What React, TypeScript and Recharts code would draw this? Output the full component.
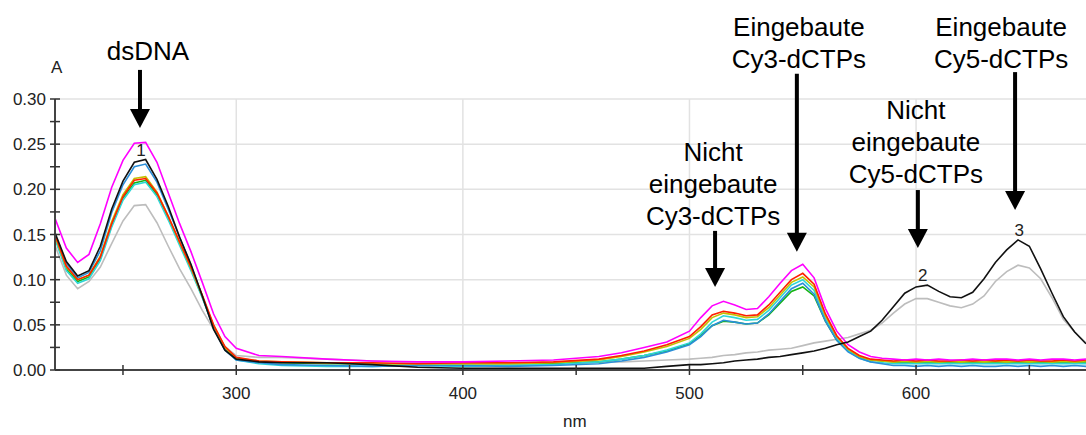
import { LineChart, Line, XAxis, YAxis, CartesianGrid, ReferenceDot } from "recharts";

// wavelength grid (nm), finer where the bands are
const wavelengths = [
	220, 225, 230, 235, 240, 245, 250, 255, 260, 265, 270, 275, 280, 285, 290, 295, 300,
	310, 320, 340, 360, 380, 400, 420, 440, 460,
	470, 480, 490, 500,
	505, 510, 515, 520, 525, 530, 535, 540, 545, 550, 555, 560, 565, 570, 575, 580,
	585, 590, 595, 600, 605, 610, 615, 620, 625, 630, 635, 640, 645, 650, 655, 660, 665, 670, 675,
];

// Cy3 labelled samples
const magenta = [
	0.168, 0.135, 0.119, 0.128, 0.162, 0.202, 0.232, 0.251, 0.252, 0.230, 0.196, 0.162, 0.131, 0.097, 0.062, 0.037, 0.024,
	0.016, 0.015, 0.012, 0.010, 0.009, 0.009, 0.010, 0.011, 0.015,
	0.019, 0.025, 0.031, 0.043,
	0.058, 0.071, 0.076, 0.072, 0.067, 0.068, 0.081, 0.096, 0.110, 0.117, 0.102, 0.068, 0.043, 0.028, 0.020, 0.015,
	0.013, 0.012, 0.011, 0.012, 0.011, 0.012, 0.011, 0.011, 0.012, 0.011, 0.012, 0.012, 0.011, 0.012, 0.011, 0.012, 0.012, 0.011, 0.012,
];
const red = [
	0.150, 0.115, 0.100, 0.105, 0.125, 0.162, 0.192, 0.210, 0.212, 0.196, 0.170, 0.142, 0.114, 0.083, 0.050, 0.026, 0.014,
	0.010, 0.009, 0.008, 0.008, 0.007, 0.008, 0.008, 0.009, 0.012,
	0.016, 0.021, 0.028, 0.037,
	0.048, 0.061, 0.065, 0.063, 0.060, 0.061, 0.072, 0.086, 0.100, 0.107, 0.095, 0.062, 0.038, 0.024, 0.016, 0.012,
	0.011, 0.010, 0.011, 0.010, 0.011, 0.010, 0.010, 0.011, 0.010, 0.011, 0.010, 0.011, 0.010, 0.011, 0.010, 0.010, 0.011, 0.010, 0.011,
];
const olive = [
	0.148, 0.114, 0.100, 0.105, 0.126, 0.164, 0.194, 0.212, 0.214, 0.197, 0.170, 0.141, 0.113, 0.082, 0.049, 0.025, 0.013,
	0.010, 0.009, 0.008, 0.007, 0.007, 0.007, 0.007, 0.008, 0.011,
	0.015, 0.020, 0.026, 0.035,
	0.045, 0.058, 0.063, 0.061, 0.058, 0.059, 0.069, 0.083, 0.097, 0.103, 0.092, 0.060, 0.037, 0.023, 0.015, 0.011,
	0.010, 0.009, 0.010, 0.009, 0.010, 0.009, 0.010, 0.009, 0.010, 0.009, 0.010, 0.009, 0.010, 0.009, 0.010, 0.009, 0.010, 0.009, 0.010,
];
const green = [
	0.147, 0.112, 0.098, 0.103, 0.123, 0.160, 0.190, 0.207, 0.210, 0.194, 0.168, 0.140, 0.112, 0.081, 0.048, 0.024, 0.012,
	0.009, 0.008, 0.007, 0.007, 0.007, 0.007, 0.007, 0.007, 0.009,
	0.012, 0.016, 0.021, 0.029,
	0.038, 0.049, 0.054, 0.053, 0.051, 0.052, 0.061, 0.074, 0.087, 0.092, 0.082, 0.054, 0.033, 0.021, 0.014, 0.011,
	0.010, 0.009, 0.009, 0.009, 0.009, 0.009, 0.009, 0.009, 0.009, 0.009, 0.009, 0.009, 0.009, 0.009, 0.009, 0.009, 0.009, 0.009, 0.009,
];
const cyan = [
	0.145, 0.110, 0.096, 0.101, 0.121, 0.158, 0.188, 0.205, 0.208, 0.192, 0.166, 0.138, 0.110, 0.080, 0.047, 0.023, 0.011,
	0.007, 0.005, 0.004, 0.004, 0.005, 0.004, 0.005, 0.006, 0.009,
	0.012, 0.016, 0.022, 0.030,
	0.040, 0.053, 0.060, 0.058, 0.055, 0.056, 0.066, 0.080, 0.094, 0.100, 0.088, 0.057, 0.035, 0.021, 0.013, 0.009,
	0.008, 0.007, 0.007, 0.007, 0.007, 0.007, 0.007, 0.007, 0.007, 0.007, 0.007, 0.007, 0.007, 0.007, 0.007, 0.007, 0.007, 0.007, 0.007,
];
const blue = [
	0.150, 0.118, 0.102, 0.108, 0.132, 0.174, 0.205, 0.225, 0.228, 0.208, 0.178, 0.147, 0.116, 0.082, 0.046, 0.022, 0.011,
	0.008, 0.006, 0.005, 0.004, 0.005, 0.005, 0.004, 0.005, 0.007,
	0.010, 0.014, 0.020, 0.028,
	0.037, 0.049, 0.055, 0.053, 0.051, 0.052, 0.062, 0.076, 0.090, 0.096, 0.084, 0.054, 0.033, 0.020, 0.013, 0.009,
	0.007, 0.005, 0.005, 0.004, 0.005, 0.004, 0.005, 0.004, 0.005, 0.004, 0.004, 0.005, 0.004, 0.005, 0.004, 0.005, 0.004, 0.005, 0.004,
];

// Cy5 labelled samples
const black = [
	0.152, 0.120, 0.104, 0.110, 0.137, 0.178, 0.209, 0.230, 0.233, 0.211, 0.181, 0.147, 0.117, 0.082, 0.045, 0.022, 0.012,
	0.009, 0.008, 0.008, 0.006, 0.003, 0.002, 0.002, 0.002, 0.002,
	0.002, 0.002, 0.004, 0.006,
	0.006, 0.007, 0.008, 0.010, 0.011, 0.012, 0.014, 0.015, 0.017, 0.019, 0.021, 0.024, 0.028, 0.031, 0.037, 0.043,
	0.055, 0.070, 0.085, 0.092, 0.094, 0.087, 0.081, 0.080, 0.086, 0.101, 0.119, 0.133, 0.144, 0.137, 0.112, 0.085, 0.059, 0.042, 0.029,
];
const gray = [
	0.138, 0.105, 0.090, 0.098, 0.114, 0.140, 0.165, 0.182, 0.183, 0.163, 0.137, 0.112, 0.090, 0.066, 0.045, 0.026, 0.016,
	0.014, 0.014, 0.012, 0.010, 0.008, 0.008, 0.008, 0.008, 0.009,
	0.009, 0.010, 0.011, 0.012,
	0.013, 0.014, 0.016, 0.017, 0.019, 0.020, 0.022, 0.023, 0.024, 0.027, 0.030, 0.032, 0.034, 0.036, 0.040, 0.044,
	0.052, 0.063, 0.073, 0.079, 0.079, 0.075, 0.071, 0.069, 0.073, 0.082, 0.098, 0.109, 0.116, 0.113, 0.101, 0.080, 0.056, 0.042, 0.030,
];

const xTicks = [250, 300, 350, 400, 450, 500, 550, 600, 650];
const xLabels = [300, 400, 500, 600];
const yTicks = [0, 0.025, 0.05, 0.075, 0.1, 0.125, 0.15, 0.175, 0.2, 0.225, 0.25, 0.275, 0.3];
const yLabels = [0, 0.05, 0.1, 0.15, 0.2, 0.25, 0.3];

const series = [
	{ key: "gray", values: gray, color: "#BDBDBD" },
	{ key: "green", values: green, color: "#14B414" },
	{ key: "cyan", values: cyan, color: "#2ED6D6" },
	{ key: "blue", values: blue, color: "#2A8ED8" },
	{ key: "olive", values: olive, color: "#C4C000" },
	{ key: "red", values: red, color: "#FF2000" },
	{ key: "magenta", values: magenta, color: "#FF00FF" },
	{ key: "black", values: black, color: "#111111" },
];

const rows = wavelengths.map((nm, i) => {
	const row: Record<string, number> = { nm };
	series.forEach((s) => (row[s.key] = s.values[i]));
	return row;
});

// arrows: tip sits at (nm, A); shaft length and text placement in px
const callouts = [
	{ nm: 257.5, a: 0.268, shaft: 58, gap: 10, dx: 8, lines: ["dsDNA"] },
	{ nm: 547.4, a: 0.131, shaft: 178, gap: 6, dx: 2, lines: ["Eingebaute", "Cy3-dCTPs"] },
	{ nm: 511.3, a: 0.092, shaft: 56, gap: 6, dx: -2, lines: ["Nicht", "eingebaute", "Cy3-dCTPs"] },
	{ nm: 600.8, a: 0.135, shaft: 58, gap: 7, dx: -2, lines: ["Nicht", "eingebaute", "Cy5-dCTPs"] },
	{ nm: 643.7, a: 0.177, shaft: 138, gap: 4, dx: -14, lines: ["Eingebaute", "Cy5-dCTPs"] },
];

// peak markers on the black trace
const peakMarks = [
	{ label: "1", nm: 258, at: 260 },
	{ label: "2", nm: 603, at: 605 },
	{ label: "3", nm: 645.5, at: 645 },
];

const tickFont = '"Liberation Sans", Arial, sans-serif';
const textFont = '"Liberation Sans", Arial, sans-serif';

const YTick = (props: any) => {
	const { x, y, payload } = props;
	const v = payload.value;
	const show = yLabels.some((l) => Math.abs(l - v) < 1e-6);
	return (
		<g>
			<line x1={x - 5} x2={x + 5} y1={y} y2={y} stroke="#333" strokeWidth={1.5} />
			{show && (
				<text x={x - 9} y={y + 6} textAnchor="end" fontSize={17} fontFamily={tickFont} fill="#222">
					{v.toFixed(2)}
				</text>
			)}
		</g>
	);
};

const XTick = (props: any) => {
	const { x, y, payload } = props;
	const v = payload.value;
	return (
		<g>
			<line x1={x} x2={x} y1={y - 5} y2={y + 5} stroke="#333" strokeWidth={1.5} />
			{xLabels.includes(v) && (
				<text x={x} y={y + 29} textAnchor="middle" fontSize={17} fontFamily={tickFont} fill="#222">
					{v}
				</text>
			)}
		</g>
	);
};

const Callout = ({ cx, cy, c }: any) => {
	const top = cy - c.shaft;
	const last = top - c.gap;
	const n = c.lines.length;
	return (
		<g>
			<line x1={cx} x2={cx} y1={top} y2={cy - 15} stroke="#000" strokeWidth={4} />
			<polygon points={`${cx - 10},${cy - 19} ${cx + 10},${cy - 19} ${cx},${cy}`} fill="#000" />
			{c.lines.map((t: string, i: number) => (
				<text
					key={t + i}
					x={cx + c.dx}
					y={last - (n - 1 - i) * 32}
					textAnchor="middle"
					fontSize={26}
					fontFamily={textFont}
					fill="#000"
				>
					{t}
				</text>
			))}
		</g>
	);
};

const PeakMark = ({ cx, cy, label }: any) => (
	<text x={cx} y={cy - 4} textAnchor="middle" fontSize={17} fontFamily={tickFont} fill="#222">
		{label}
	</text>
);

const App = () => {
	return (
		<div style={{ position: "absolute", left: 0, top: 0, width: 1086, height: 435, background: "#fff" }}>
			<LineChart width={1086} height={435} data={rows} margin={{ top: 99, right: 0, bottom: 0, left: 0 }}>
				<CartesianGrid
					horizontalValues={yLabels}
					verticalValues={xLabels}
					stroke="#E2E2E2"
					strokeWidth={1.5}
				/>
				<XAxis
					dataKey="nm"
					type="number"
					domain={[220, 675]}
					ticks={xTicks}
					interval={0}
					height={65}
					tickSize={0}
					tickMargin={0}
					tickLine={false}
					axisLine={{ stroke: "#444", strokeWidth: 2 }}
					tick={<XTick />}
					allowDataOverflow
				/>
				<YAxis
					type="number"
					domain={[0, 0.3]}
					ticks={yTicks}
					interval={0}
					width={55}
					tickSize={0}
					tickMargin={0}
					tickLine={false}
					axisLine={{ stroke: "#444", strokeWidth: 2 }}
					tick={<YTick />}
					allowDataOverflow
				/>
				{series.map((s) => (
					<Line
						key={s.key}
						type="linear"
						dataKey={s.key}
						stroke={s.color}
						strokeWidth={1.6}
						dot={false}
						activeDot={false}
						isAnimationActive={false}
					/>
				))}
				{peakMarks.map((p) => (
					<ReferenceDot
						key={p.label}
						x={p.nm}
						y={black[wavelengths.indexOf(p.at)]}
						r={0}
						ifOverflow="visible"
						shape={(props: any) => <PeakMark cx={props.cx} cy={props.cy} label={p.label} />}
					/>
				))}
				{callouts.map((c) => (
					<ReferenceDot
						key={c.lines.join(" ")}
						x={c.nm}
						y={c.a}
						r={0}
						ifOverflow="visible"
						shape={(props: any) => <Callout cx={props.cx} cy={props.cy} c={c} />}
					/>
				))}
			</LineChart>
			<div style={{ position: "absolute", left: 51, top: 58, fontFamily: tickFont, fontSize: 17, color: "#222" }}>A</div>
			<div style={{ position: "absolute", left: 563, top: 412, fontFamily: tickFont, fontSize: 17, color: "#222" }}>nm</div>
		</div>
	);
};

export default App;
